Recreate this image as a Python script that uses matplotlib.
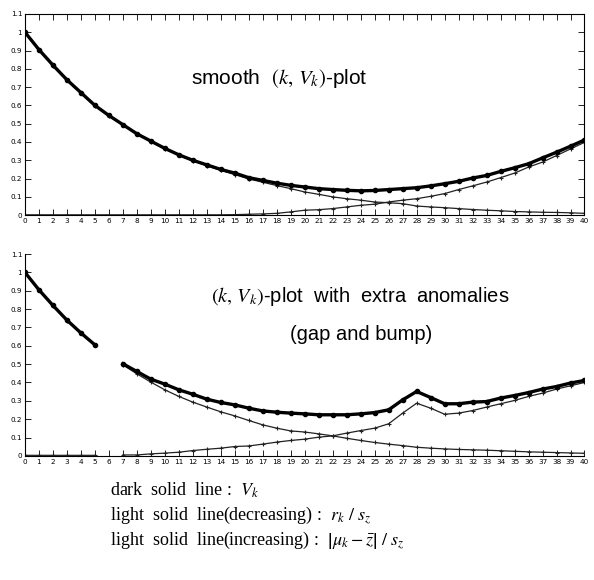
import numpy as np
import matplotlib
matplotlib.use("Agg")
import matplotlib.pyplot as plt

k = np.arange(0, 41)

# top panel: smooth (k, V_k)
v_smooth = [1.0, 0.905, 0.82, 0.74, 0.67, 0.60, 0.545, 0.495, 0.445, 0.405,
            0.365, 0.33, 0.30, 0.275, 0.25, 0.23, 0.205, 0.19, 0.175, 0.163,
            0.154, 0.145, 0.14, 0.136, 0.133, 0.135, 0.14, 0.145, 0.15, 0.16,
            0.172, 0.185, 0.203, 0.217, 0.239, 0.259, 0.281, 0.313, 0.344, 0.377, 0.411]
dec_smooth = [1.0, 0.902, 0.817, 0.737, 0.667, 0.597, 0.542, 0.492, 0.442, 0.402,
              0.362, 0.327, 0.297, 0.27, 0.245, 0.222, 0.198, 0.18, 0.162, 0.145,
              0.127, 0.114, 0.10, 0.09, 0.082, 0.072, 0.068, 0.063, 0.05, 0.045,
              0.041, 0.036, 0.031, 0.027, 0.024, 0.02, 0.018, 0.016, 0.015, 0.013, 0.01]
inc_smooth = [0.002, 0.002, 0.002, 0.002, 0.002, 0.002, 0.002, 0.002, 0.002, 0.002,
              0.002, 0.002, 0.002, 0.002, 0.002, 0.003, 0.005, 0.007, 0.01, 0.018,
              0.027, 0.03, 0.036, 0.045, 0.054, 0.06, 0.072, 0.082, 0.09, 0.103,
              0.118, 0.14, 0.16, 0.181, 0.205, 0.23, 0.263, 0.29, 0.326, 0.362, 0.398]

# bottom panel: gap at k=6, bump at k=28
nan = np.nan
v_anom = [1.0, 0.905, 0.82, 0.74, 0.67, 0.605, nan, 0.502, 0.46, 0.418,
          0.391, 0.36, 0.336, 0.309, 0.291, 0.278, 0.26, 0.245, 0.238, 0.233,
          0.229, 0.224, 0.224, 0.224, 0.229, 0.236, 0.251, 0.305, 0.351, 0.318,
          0.284, 0.284, 0.293, 0.296, 0.315, 0.329, 0.345, 0.364, 0.378, 0.397, 0.411]
dec_anom = [1.0, 0.902, 0.817, 0.737, 0.667, 0.602, nan, 0.496, 0.447, 0.402,
            0.36, 0.324, 0.293, 0.266, 0.24, 0.218, 0.193, 0.169, 0.151, 0.136,
            0.13, 0.12, 0.109, 0.096, 0.084, 0.073, 0.064, 0.056, 0.047, 0.042,
            0.038, 0.035, 0.033, 0.031, 0.028, 0.025, 0.022, 0.02, 0.018, 0.016, 0.014]
inc_anom = [0.003, 0.003, 0.003, 0.003, 0.003, 0.003, nan, 0.005, 0.005, 0.011,
            0.015, 0.02, 0.029, 0.036, 0.042, 0.051, 0.054, 0.064, 0.075, 0.084,
            0.091, 0.102, 0.109, 0.124, 0.138, 0.151, 0.175, 0.233, 0.287, 0.26,
            0.227, 0.233, 0.247, 0.266, 0.284, 0.302, 0.324, 0.342, 0.364, 0.382, 0.40]

yticks = [0, 0.1, 0.2, 0.3, 0.4, 0.5, 0.6, 0.7, 0.8, 0.9, 1.0, 1.1]
ylabels = ["0", "0.1", "0.2", "0.3", "0.4", "0.5", "0.6", "0.7", "0.8", "0.9", "1", "1.1"]

plt.rcParams["mathtext.fontset"] = "stix"

fig = plt.figure(figsize=(5.94, 5.80), dpi=100)
ax1 = fig.add_axes([0.042, 0.629, 0.942, 0.347])
ax2 = fig.add_axes([0.042, 0.214, 0.942, 0.348])


def draw(ax, v, dec, inc):
    ax.plot(k, dec, color="#222222", lw=0.9, marker="+", ms=3, mew=0.8)
    ax.plot(k, inc, color="#222222", lw=0.9, marker="+", ms=3, mew=0.8)
    ax.plot(k, v, color="black", lw=2.4, marker="o", ms=3)
    ax.set_xlim(0, 40)
    ax.set_ylim(0, 1.1)
    ax.set_xticks(k)
    ax.set_xticklabels([str(i) for i in k], fontsize=5.2)
    ax.set_yticks(yticks)
    ax.set_yticklabels(ylabels, fontsize=5.2)
    ax.tick_params(direction="in", length=4, width=0.6, pad=2)
    for s in ax.spines.values():
        s.set_linewidth(0.8)


draw(ax1, v_smooth, dec_smooth, inc_smooth)
ax1.tick_params(top=True, right=True)
ax1.text(0.455, 0.68, r"smooth  $(k,\,V_k)$-plot", transform=ax1.transAxes,
         ha="center", va="center", fontsize=15, family="Liberation Sans")

draw(ax2, v_anom, dec_anom, inc_anom)
ax2.spines["top"].set_visible(False)
ax2.spines["right"].set_visible(False)
ax2.text(0.60, 0.79, r"$(k,\,V_k)$-plot  with  extra  anomalies", transform=ax2.transAxes,
         ha="center", va="center", fontsize=14.5, family="Liberation Sans")
ax2.text(0.60, 0.60, "(gap and bump)", transform=ax2.transAxes,
         ha="center", va="center", fontsize=14.5, family="Liberation Sans")

fs = 13
fig.text(0.185, 0.155, r"dark  solid  line :  $V_k$", fontsize=fs, family="Liberation Serif", va="center")
fig.text(0.185, 0.112, r"light  solid  line(decreasing) :  $r_k\ /\ s_z$", fontsize=fs,
         family="Liberation Serif", va="center")
fig.text(0.185, 0.068, r"light  solid  line(increasing) :  $\left|\mu_k-\bar{z}\right|\ /\ s_z$",
         fontsize=fs, family="Liberation Serif", va="center")

fig.savefig("out.png", dpi=100)
